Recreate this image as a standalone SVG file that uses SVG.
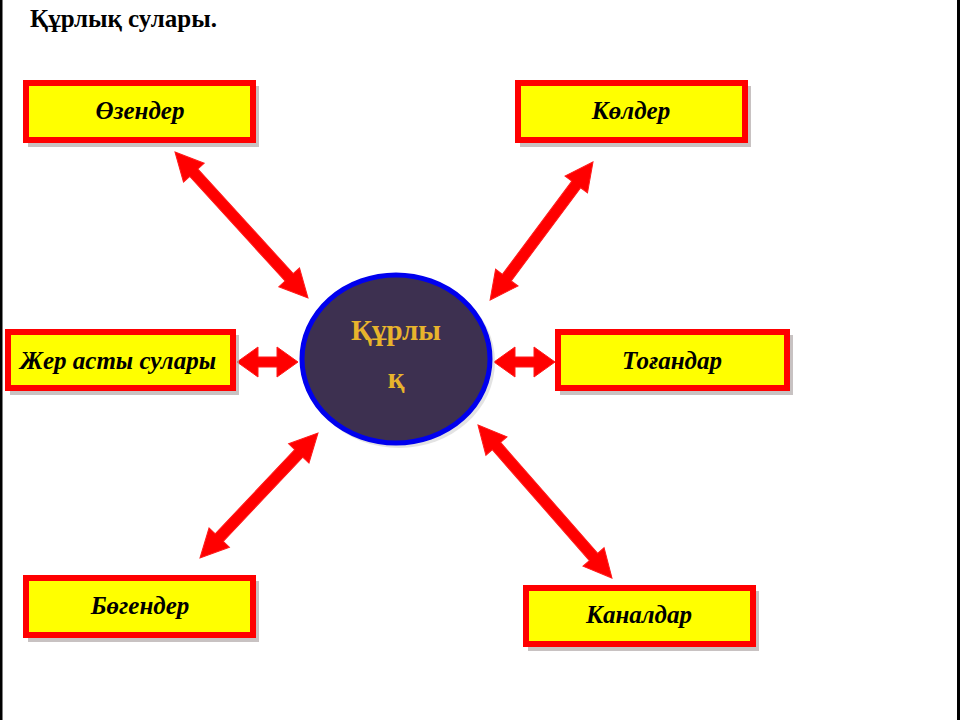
<svg xmlns="http://www.w3.org/2000/svg" width="960" height="720" viewBox="0 0 960 720">
<style>
.box{fill:#ffff00;stroke:#ff0000;stroke-width:6}
.shadow{fill:#b0a8a8;opacity:0.7}
.lbl{font-family:"Liberation Serif","DejaVu Serif",serif;font-style:italic;font-weight:bold;font-size:25px;fill:#000;text-anchor:middle}
.arr{fill:#ff0000;stroke:#ff1a1a;stroke-width:1}
.ctr{font-family:"Liberation Serif","DejaVu Serif",serif;font-weight:bold;font-size:29px;fill:#e8b42c;text-anchor:middle}
</style>
<rect x="0" y="0" width="960" height="720" fill="#ffffff"/>
<rect x="0" y="0" width="2.5" height="720" fill="#000"/>
<rect x="957" y="0" width="3" height="720" fill="#000"/>
<text x="30" y="27" font-family="Liberation Serif, DejaVu Serif, serif" font-weight="bold" font-size="25" fill="#000">Құрлық сулары.</text>

<g id="connectors">
  <polygon class="arr" transform="translate(175,152) rotate(47.67)" points="0,0 28,-14 28,-5.5 169.5,-5.5 169.5,-14 197.5,0 169.5,14 169.5,5.5 28,5.5 28,14"/>
  <polygon class="arr" transform="translate(593,162) rotate(126.7)" points="0,0 28,-14 28,-5.5 144.2,-5.5 144.2,-14 172.2,0 144.2,14 144.2,5.5 28,5.5 28,14"/>
  <polygon class="arr" transform="translate(237,362)" points="0,0 21,-15 21,-5 40,-5 40,-15 61,0 40,15 40,5 21,5 21,15"/>
  <polygon class="arr" transform="translate(494,362)" points="0,0 21,-15 21,-5 40,-5 40,-15 61,0 40,15 40,5 21,5 21,15"/>
  <polygon class="arr" transform="translate(200,558) rotate(-46.65)" points="0,0 28,-14 28,-5.5 143.9,-5.5 143.9,-14 171.9,0 143.9,14 143.9,5.5 28,5.5 28,14"/>
  <polygon class="arr" transform="translate(478,425) rotate(48.8)" points="0,0 28,-14 28,-5.5 175.4,-5.5 175.4,-14 203.4,0 175.4,14 175.4,5.5 28,5.5 28,14"/>
</g>

<g id="center">
  <ellipse cx="399" cy="362" rx="96" ry="86" fill="#c8c8c8" opacity="0.5"/>
  <ellipse cx="396" cy="359" rx="94" ry="84" fill="#3d3050" stroke="#0000ee" stroke-width="5"/>
  <text class="ctr" x="396" y="340">Құрлы</text>
  <text class="ctr" x="396" y="388">қ</text>
</g>

<g id="n-ozender">
  <rect class="shadow" x="28" y="86" width="231" height="61"/>
  <rect class="box" x="26" y="83" width="227" height="57"/>
  <text class="lbl" x="140" y="119">Өзендер</text>
</g>
<g id="n-kolder">
  <rect class="shadow" x="520" y="86" width="231" height="61"/>
  <rect class="box" x="518" y="83" width="227" height="57"/>
  <text class="lbl" x="631" y="119">Көлдер</text>
</g>
<g id="n-zher">
  <rect class="shadow" x="10" y="335" width="229" height="60"/>
  <rect class="box" x="8" y="332" width="225" height="56"/>
  <text class="lbl" x="118" y="369">Жер асты сулары</text>
</g>
<g id="n-togandar">
  <rect class="shadow" x="560" y="335" width="233" height="60"/>
  <rect class="box" x="558" y="332" width="229" height="56"/>
  <text class="lbl" x="672" y="369">Тоғандар</text>
</g>
<g id="n-bogender">
  <rect class="shadow" x="28" y="581" width="231" height="61"/>
  <rect class="box" x="26" y="578" width="227" height="57"/>
  <text class="lbl" x="140" y="614">Бөгендер</text>
</g>
<g id="n-kanaldar">
  <rect class="shadow" x="528" y="591" width="231" height="60"/>
  <rect class="box" x="526" y="588" width="227" height="56"/>
  <text class="lbl" x="639" y="623">Каналдар</text>
</g>
</svg>
